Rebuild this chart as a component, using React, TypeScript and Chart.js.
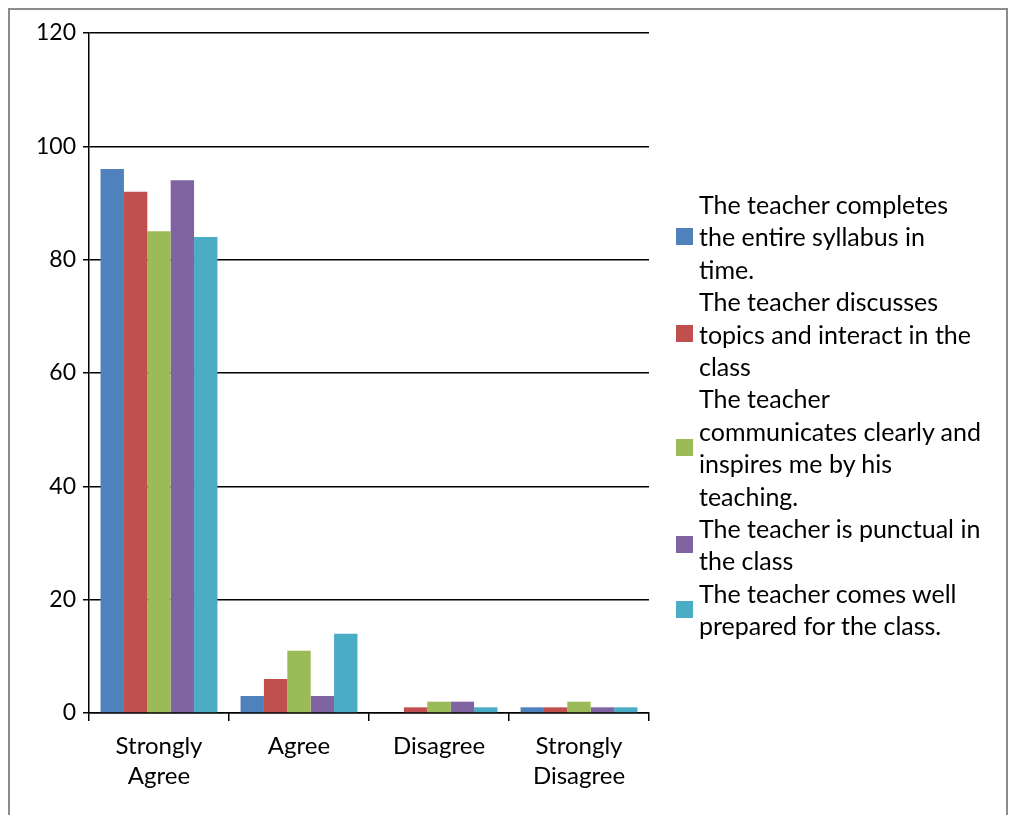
import React, { useEffect, useRef } from "react";
import { Chart, registerables } from "chart.js";

Chart.register(...registerables);

const categories: (string | string[])[] = [["Strongly", "Agree"], "Agree", "Disagree", ["Strongly", "Disagree"]];

const seriesLabels = [
  "The teacher completes the entire syllabus in time.",
  "The teacher discusses topics and interact in the class",
  "The teacher communicates clearly and inspires me by his teaching.",
  "The teacher is punctual in the class",
  "The teacher comes well prepared for the class.",
];

const legendLines = [
  ["The teacher completes", "the entire syllabus in", "time."],
  ["The teacher discusses", "topics and interact in the", "class"],
  ["The teacher", "communicates clearly and", "inspires me by his", "teaching."],
  ["The teacher is punctual in", "the class"],
  ["The teacher comes well", "prepared for the class."],
];

const syllabusValues = [96, 3, 0, 1];
const discussValues = [92, 6, 1, 1];
const communicateValues = [85, 11, 2, 2];
const punctualValues = [94, 3, 2, 1];
const preparedValues = [84, 14, 1, 1];

const seriesValues = [syllabusValues, discussValues, communicateValues, punctualValues, preparedValues];
const seriesColors = ["#4F81BD", "#C0504D", "#9BBB59", "#8064A2", "#4BACC6"];

const yTicks = [0, 20, 40, 60, 80, 100, 120];

const FONT = "Lato, 'Open Sans', sans-serif";

export default function App() {
  const canvasRef = useRef<HTMLCanvasElement | null>(null);

  useEffect(() => {
    if (!canvasRef.current) return;
    const chart = new Chart(canvasRef.current, {
      type: "bar",
      data: {
        labels: categories,
        datasets: seriesValues.map((vals, i) => ({
          label: seriesLabels[i],
          data: vals,
          backgroundColor: seriesColors[i],
          borderWidth: 0,
          barPercentage: 1,
          categoryPercentage: 0.835,
        })),
      },
      options: {
        animation: false,
        responsive: false,
        maintainAspectRatio: false,
        layout: { padding: { left: 0, right: 357, top: 23, bottom: 22 } },
        plugins: {
          legend: { display: false },
          tooltip: { enabled: false },
        },
        scales: {
          x: {
            afterFit: (scale: any) => {
              scale.height = 80;
            },
            grid: {
              drawOnChartArea: false,
              drawTicks: true,
              tickLength: 8,
              color: "#000",
              lineWidth: 1.5,
              offset: true,
            },
            border: { display: true, color: "#000", width: 1.5 },
            ticks: {
              color: "#000",
              font: { family: FONT, size: 24, lineHeight: 1.25 },
              padding: 10,
              maxRotation: 0,
              autoSkip: false,
            },
          },
          y: {
            min: 0,
            max: 120,
            afterFit: (scale: any) => {
              scale.width = 79;
            },
            afterBuildTicks: (scale: any) => {
              scale.ticks = yTicks.map((v) => ({ value: v }));
            },
            grid: {
              color: "#000",
              lineWidth: 1.5,
              drawTicks: true,
              tickLength: 6,
            },
            border: { display: true, color: "#000", width: 1.5 },
            ticks: {
              color: "#000",
              font: { family: FONT, size: 23 },
              padding: 7,
            },
          },
        },
      },
    });
    return () => chart.destroy();
  }, []);

  return (
    <div
      style={{
        position: "fixed",
        left: 8,
        top: 8,
        width: 996,
        height: 805,
        border: "2px solid #8c8c8c",
        borderBottom: "none",
        fontFamily: FONT,
      }}
    >
      <canvas ref={canvasRef} width={996} height={805} style={{ position: "absolute", left: 0, top: 0 }} />
      <div style={{ position: "absolute", left: 666, top: 178 }}>
        {legendLines.map((lines, i) => (
          <div key={i} style={{ display: "flex", alignItems: "center" }}>
            <div style={{ width: 17, height: 17, background: seriesColors[i], marginRight: 6, flexShrink: 0 }} />
            <div style={{ fontSize: 25, lineHeight: "32.4px", color: "#000", whiteSpace: "nowrap" }}>
              {lines.map((l, j) => (
                <div key={j}>{l}</div>
              ))}
            </div>
          </div>
        ))}
      </div>
    </div>
  );
}
